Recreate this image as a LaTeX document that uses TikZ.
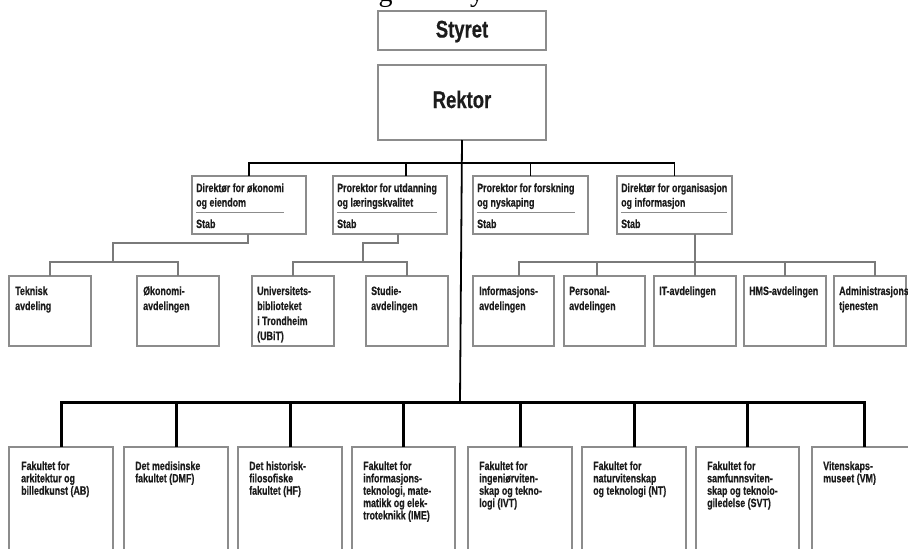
\documentclass[tikz,border=0pt]{standalone}
\usepackage{graphicx}
\usepackage{fontspec}
\setmainfont{Liberation Sans}
\newfontfamily\heavy[FakeBold=0.6]{Liberation Sans}
\newfontfamily\cutserif{Liberation Serif}
\definecolor{ink}{HTML}{1C1C1C}
\definecolor{boxgray}{HTML}{8C8C8C}
\definecolor{subgray}{HTML}{7A7A7A}
\newcommand\narrow[1]{\scalebox{0.74}[1]{#1}}
\newcommand\mlines[1]{\scalebox{0.74}[1]{\begin{tabular}[t]{@{}l@{}}#1\end{tabular}}}
\newcommand\bx[5]{\node[box,minimum width=#4pt,minimum height=#5pt] (#1) at (#2,#3) {};}
\tikzset{
  box/.style={draw=boxgray,line width=1.2pt,fill=white,inner sep=0pt,outer sep=0pt,anchor=north west},
  lbl/.style={inner sep=0pt,anchor=base west,text=ink,font=\heavy\bfseries\fontsize{12}{14.5}\selectfont},
  lbltop/.style={inner sep=0pt,anchor=base west,text=ink,font=\heavy\bfseries\fontsize{12}{15}\selectfont},
  lblbot/.style={inner sep=0pt,anchor=base west,text=ink,font=\heavy\bfseries\fontsize{12}{12.2}\selectfont},
  bigl/.style={inner sep=0pt,anchor=base,text=ink,font=\heavy\bfseries\fontsize{24}{26}\selectfont},
  mainline/.style={draw=black,line width=1.8pt},
  subline/.style={draw=subgray,line width=1.3pt},
  barline/.style={draw=black,line width=3pt},
  stabrule/.style={draw=boxgray,line width=0.9pt}
}
\begin{document}
\begin{tikzpicture}[x=1pt,y=-1pt]
\useasboundingbox (0,0) rectangle (908,549);
\begin{scope}
\clip (0,0) rectangle (908,549);
% cut-off title fragments
\node[inner sep=0pt,anchor=base,font=\cutserif\fontsize{28}{30}\selectfont] (tg) at (385.5,1.5) {g};
\node[inner sep=0pt,anchor=base,font=\cutserif\fontsize{28}{30}\selectfont] (ty) at (477,1.5) {y};

% junction coordinates
\coordinate (bus4) at (460,402);
\coordinate (j1) at (113,243);
\coordinate (j1b) at (113,262);
\coordinate (j2) at (363,243);
\coordinate (j2b) at (363,262);
\coordinate (bus3) at (695,262);

% top boxes
\bx{styret}{378}{11}{168}{39}
\bx{rektor}{378}{65}{168}{75}
\node[bigl] (styret-t) at (462,37.5) {\scalebox{0.77}[1]{Styret}};
\node[bigl] (rektor-t) at (462,108) {\scalebox{0.77}[1]{Rektor}};

% row 2
\bx{dirok}{192}{176}{114}{58}
\bx{prutd}{333}{176}{114}{58}
\bx{prfor}{473}{176}{115}{58}
\bx{dirorg}{617}{176}{115}{58}

% row 3
\bx{tek}{9}{276}{82}{70}
\bx{oko}{137}{276}{82}{70}
\bx{ub}{252}{276}{82}{70}
\bx{stud}{366}{276}{82}{70}
\bx{info}{473}{276}{81}{70}
\bx{pers}{564}{276}{81}{70}
\bx{it}{654}{276}{82}{70}
\bx{hms}{744}{276}{82}{70}
\bx{adm}{834}{276}{72}{70}

% faculties
\bx{ab}{9}{447}{104}{130}
\bx{dmf}{124}{447}{104}{130}
\bx{hf}{238}{447}{104}{130}
\bx{ime}{352}{447}{103}{130}
\bx{ivt}{468}{447}{104}{130}
\bx{nt}{582}{447}{104}{130}
\bx{svt}{696}{447}{103}{130}
\bx{vm}{812}{447}{104}{130}

% connectors: rektor level
\draw[mainline] (rektor.south) -- (bus4);
\draw[mainline] (dirok.north) -- ++(0,-13) -| (dirorg.north);
\draw[mainline] ([xshift=16pt]prutd.north) -- ++(0,-13);
\draw[mainline] (prfor.north) -- ++(0,-13);

% sub trees
\draw[subline] ([xshift=-1pt]dirok.south) |- (j1) -- (j1b);
\draw[subline] (tek.north) |- (j1b) -| (oko.north);
\draw[subline] ([xshift=8pt]prutd.south) |- (j2) -- (j2b);
\draw[subline] (ub.north) |- (j2b) -| (stud.north);
\draw[subline] (it.north) -- (it.north |- dirorg.south);
\draw[subline] ([xshift=5.5pt]info.north) |- (bus3) -| ([xshift=5pt]adm.north);
\draw[subline] ([xshift=-7.5pt]pers.north) -- ++(0,-14);
\draw[subline] (hms.north) -- ++(0,-14);

% faculty bar
\draw[barline] (ab.north) -- ++(0,-45) -| (vm.north);
\foreach \f in {dmf,hf,ime,ivt,nt,svt}{
  \draw[barline] (\f.north) -- ++(0,-45);
}

% row 2 texts
\node[lbl] (dirok-t) at (196,192) {\mlines{Direktør for økonomi\\og eiendom}};
\node[lbl] (prutd-t) at (337,192) {\mlines{Prorektor for utdanning\\og læringskvalitet}};
\node[lbl] (prfor-t) at (477,192) {\mlines{Prorektor for forskning\\og nyskaping}};
\node[lbl] (dirorg-t) at (621,192) {\mlines{Direktør for organisasjon\\og informasjon}};
\foreach \n in {dirok,prutd,prfor,dirorg}{
  \draw[stabrule] (\n-t.west |- 0,212) -- (\n-t.east |- 0,212);
}
\node[lbl] (dirok-s) at (196,228) {\narrow{Stab}};
\node[lbl] (prutd-s) at (337,228) {\narrow{Stab}};
\node[lbl] (prfor-s) at (477,228) {\narrow{Stab}};
\node[lbl] (dirorg-s) at (621,228) {\narrow{Stab}};

% row 3 texts
\node[lbltop] (tek-t) at (15,295) {\mlines{Teknisk\\avdeling}};
\node[lbltop] (oko-t) at (143,295) {\mlines{Økonomi-\\avdelingen}};
\node[lbltop] (ub-t) at (257,295) {\mlines{Universitets-\\biblioteket\\i Trondheim\\(UBiT)}};
\node[lbltop] (stud-t) at (371,295) {\mlines{Studie-\\avdelingen}};
\node[lbltop] (info-t) at (479,295) {\mlines{Informasjons-\\avdelingen}};
\node[lbltop] (pers-t) at (569,295) {\mlines{Personal-\\avdelingen}};
\node[lbltop] (it-t) at (659,295) {\narrow{IT-avdelingen}};
\node[lbltop] (hms-t) at (749,295) {\narrow{HMS-avdelingen}};
\node[lbltop] (adm-t) at (839,295) {\mlines{Administrasjons-\\tjenesten}};

% faculty texts
\node[lblbot] (ab-t) at (21,470) {\mlines{Fakultet for\\arkitektur og\\billedkunst (AB)}};
\node[lblbot] (dmf-t) at (135,470) {\mlines{Det medisinske\\fakultet (DMF)}};
\node[lblbot] (hf-t) at (249,470) {\mlines{Det historisk-\\filosofiske\\fakultet (HF)}};
\node[lblbot] (ime-t) at (363,470) {\mlines{Fakultet for\\informasjons-\\teknologi, mate-\\matikk og elek-\\troteknikk (IME)}};
\node[lblbot] (ivt-t) at (479,470) {\mlines{Fakultet for\\ingeniørviten-\\skap og tekno-\\logi (IVT)}};
\node[lblbot] (nt-t) at (593,470) {\mlines{Fakultet for\\naturvitenskap\\og teknologi (NT)}};
\node[lblbot] (svt-t) at (707,470) {\mlines{Fakultet for\\samfunnsviten-\\skap og teknolo-\\giledelse (SVT)}};
\node[lblbot] (vm-t) at (823,470) {\mlines{Vitenskaps-\\museet (VM)}};
\end{scope}
\end{tikzpicture}
\end{document}
